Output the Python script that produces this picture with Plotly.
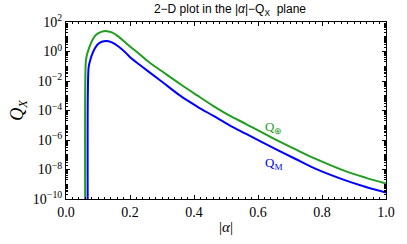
import plotly.graph_objects as go

# |alpha| values and log10(Q) values
alpha_earth = [0.0600, 0.0603, 0.062, 0.065, 0.0734, 0.083, 0.094, 0.110, 0.128, 0.145, 0.165, 0.185, 0.201,
               0.230, 0.257, 0.300, 0.359, 0.410, 0.461, 0.510, 0.563, 0.640, 0.716, 0.777, 0.869, 0.935, 1.0]
logq_earth = [-12.0, -2.0, -0.68, -0.25, 0.32, 0.80, 1.13, 1.33, 1.38, 1.28, 0.99, 0.62, 0.32,
              -0.18, -0.68, -1.34, -2.24, -2.98, -3.70, -4.33, -4.92, -5.80, -6.62, -7.25, -8.08, -8.55, -8.95]

alpha_m = [0.0680, 0.0685, 0.071, 0.075, 0.079, 0.088, 0.098, 0.112, 0.128, 0.145, 0.165, 0.185, 0.204,
           0.230, 0.257, 0.300, 0.359, 0.410, 0.461, 0.510, 0.563, 0.640, 0.716, 0.777, 0.869, 0.935, 1.0]
logq_m = [-12.0, -2.5, -1.02, -0.65, -0.35, 0.12, 0.46, 0.66, 0.71, 0.60, 0.32, -0.05, -0.46,
          -0.90, -1.35, -2.05, -3.03, -3.73, -4.37, -4.99, -5.59, -6.45, -7.27, -7.92, -8.70, -9.17, -9.57]

ytick_exps = [2, 0, -2, -4, -6, -8, -10]
xtick_vals = [0.0, 0.2, 0.4, 0.6, 0.8, 1.0]

green = "#1f9e1f"
blue = "#0000ff"
serif = "Times New Roman, Liberation Serif, serif"

fig = go.Figure()
fig.add_trace(go.Scatter(x=alpha_earth, y=[10 ** v for v in logq_earth], mode="lines",
                         line=dict(color=green, width=2), line_shape="spline"))
fig.add_trace(go.Scatter(x=alpha_m, y=[10 ** v for v in logq_m], mode="lines",
                         line=dict(color=blue, width=2), line_shape="spline"))


def sup(e):
    s = str(e).replace("-", "\u2212")
    return "10<sup>" + s + "</sup>"


fig.update_layout(
    width=407, height=244,
    margin=dict(l=66, r=13, t=20, b=45),
    paper_bgcolor="white", plot_bgcolor="white",
    showlegend=False,
    title=dict(text="2\u2212D plot in the |<i>α</i>|\u2212Q<sub>X</sub>  plane",
               x=(66 + 394) / 2 / 407, xanchor="center", y=1 - 9 / 244, yanchor="middle",
               font=dict(family="Liberation Sans, Arial, sans-serif", size=12, color="black")),
    xaxis=dict(range=[0, 1], tickvals=xtick_vals, ticktext=[f"{v:.1f}" for v in xtick_vals],
               ticks="inside", ticklen=4, tickcolor="black", showline=True, linecolor="black",
               linewidth=1, mirror="ticks", showgrid=False, zeroline=False,
               tickfont=dict(family=serif, size=14, color="black"),
               minor=dict(dtick=0.02, ticks="inside", ticklen=2, tickcolor="black"),
               title=dict(text="|<i>α</i>|", font=dict(family=serif, size=15, color="black"), standoff=2)),
    yaxis=dict(type="log", range=[-10, 2], tickvals=[10 ** e for e in ytick_exps],
               ticktext=[sup(e) for e in ytick_exps],
               ticks="inside", ticklen=4, tickcolor="black", showline=True, linecolor="black",
               linewidth=1, mirror="ticks", showgrid=False, zeroline=False,
               tickfont=dict(family=serif, size=14, color="black"),
               minor=dict(tickvals=[10 ** e for e in range(-10, 3)] +
                          [m * 10 ** e for e in range(-10, 2) for m in (2, 3, 4, 5, 6, 7, 8, 9)],
                          ticks="inside", ticklen=2, tickcolor="black"),
               title=dict(text="<i>Q<sub>X</sub></i>", font=dict(family=serif, size=18, color="black"),
                          standoff=4)),
)

fig.add_annotation(x=0.648, y=-5.17, text="Q<sub>⊕</sub>", showarrow=False,
                   font=dict(family=serif, size=13, color=green))
fig.add_annotation(x=0.648, y=-7.58, text="Q<sub>M</sub>", showarrow=False,
                   font=dict(family=serif, size=13, color=blue))

fig.write_html("out.html", config={"displayModeBar": False},
               post_script="document.body.style.margin='0';")
